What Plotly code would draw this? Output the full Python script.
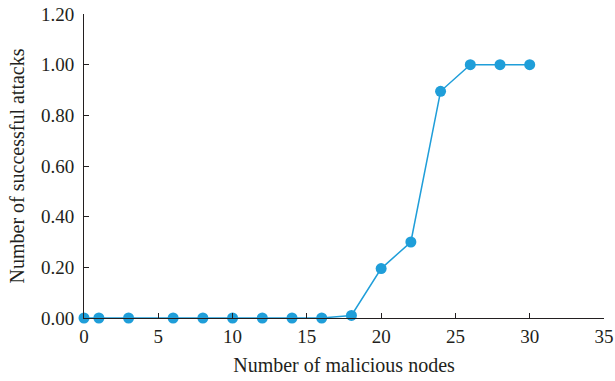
import plotly.graph_objects as go

nodes = [0, 1, 3, 6, 8, 10, 12, 14, 16, 18, 20, 22, 24, 26, 28, 30]
attacks = [0, 0, 0, 0, 0, 0, 0, 0, 0, 0.01, 0.195, 0.30, 0.895, 1.0, 1.0, 1.0]

y_ticks = [0, 0.2, 0.4, 0.6, 0.8, 1.0, 1.2]
y_tick_labels = ["0.00", "0.20", "0.40", "0.60", "0.80", "1.00", "1.20"]
x_ticks = [0, 5, 10, 15, 20, 25, 30, 35]

color = "#1f9ed9"
ink = "#231f20"
font = "Liberation Serif"

fig = go.Figure()
fig.add_trace(go.Scatter(
    x=nodes, y=attacks, mode="lines+markers",
    line=dict(color=color, width=1.5),
    marker=dict(color=color, size=11),
    cliponaxis=False, showlegend=False,
))

fig.update_layout(
    width=615, height=381,
    margin=dict(l=84, r=11, t=14, b=63, autoexpand=False),
    paper_bgcolor="white", plot_bgcolor="white",
    font=dict(family=font, size=19, color=ink),
    xaxis=dict(
        range=[0, 35], tickvals=x_ticks, ticks="inside", ticklen=5,
        tickcolor=ink, showline=True, linecolor=ink, linewidth=1,
        showgrid=False, zeroline=False, automargin=False,
        tickfont=dict(size=19), ticklabelstandoff=1,
        title=dict(text="Number of malicious nodes", font=dict(size=20), standoff=12),
    ),
    yaxis=dict(
        range=[0, 1.2], tickvals=y_ticks, ticktext=y_tick_labels, ticks="inside", ticklen=5,
        tickcolor=ink, showline=True, linecolor=ink, linewidth=1,
        showgrid=False, zeroline=False, automargin=False,
        tickfont=dict(size=19), ticklabelstandoff=5,
        title=dict(text="Number of successful attacks", font=dict(size=20), standoff=10),
    ),
)

fig.write_html("out.html", config={"displayModeBar": False},
               post_script="document.body.style.margin='0';")
